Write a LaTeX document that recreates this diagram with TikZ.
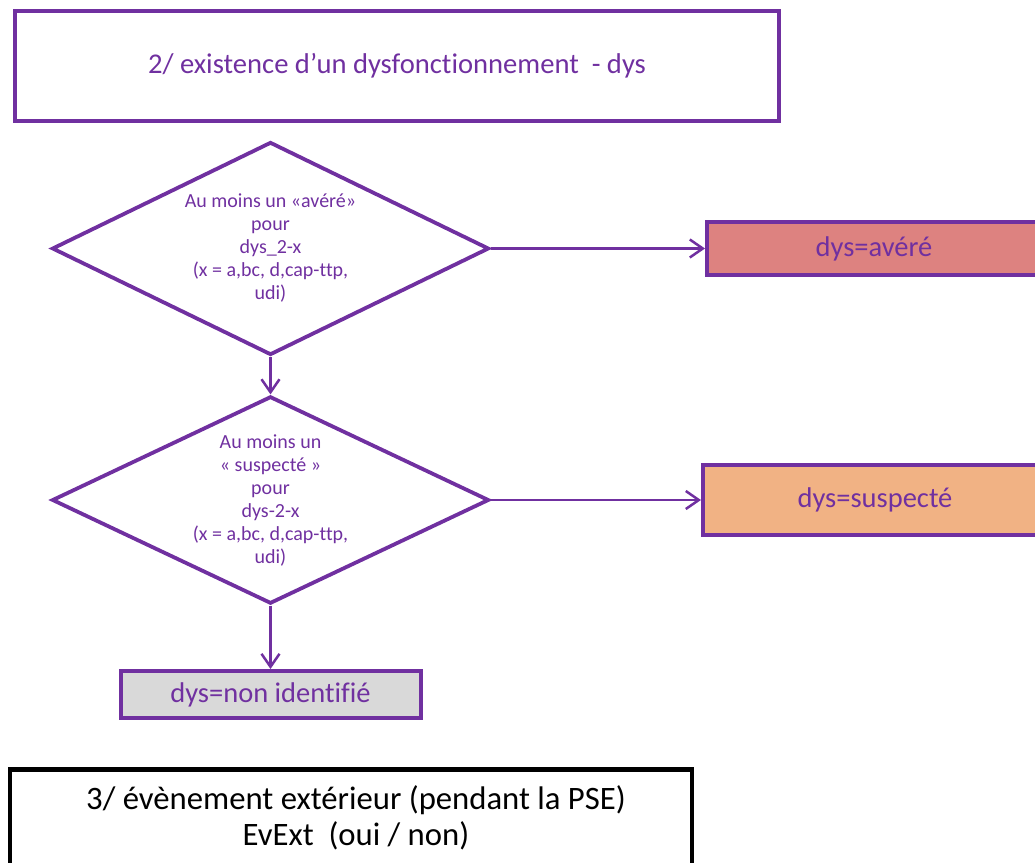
\documentclass[tikz,border=0pt]{standalone}
\usepackage{fontspec}
\setmainfont[Ligatures={NoCommon}]{Carlito}
\usetikzlibrary{shapes.geometric,arrows.meta}
\definecolor{purp}{HTML}{7030A0}
\definecolor{redfill}{HTML}{DD8280}
\definecolor{orangefill}{HTML}{F1B284}
\definecolor{grayfill}{HTML}{D9D9D9}
\tikzset{
  box/.style={draw=purp, line width=4pt, rectangle, inner sep=0pt, text=purp, align=center},
  decision/.style={draw=purp, line width=3.8pt, diamond, inner sep=0pt, aspect=2.05,
    minimum width=437pt, text=purp, align=center,
    font=\fontsize{20}{23}\selectfont},
  flow/.style={draw=purp, line width=2.5pt, -{Straight Barb[length=13pt,width=18pt]}},
  result/.style={box, font=\fontsize{28.5}{32}\selectfont}
}
\begin{document}
\begin{tikzpicture}[x=1pt,y=-1pt]
\clip (0,0) rectangle (1035,862);
\useasboundingbox (0,0) rectangle (1035,862);
\node[box, minimum width=764pt, minimum height=110pt, font=\fontsize{28.6}{34}\selectfont]
  (title) at (397,66) {2/ existence d’un dysfonctionnement~ - dys};
\node[decision, minimum height=213pt] (d1) at (270.5,248.5)
  {Au moins un «avéré»\\pour\\dys\_2-x\\(x = a,bc, d,cap-ttp,\\udi)};
\node[decision, minimum height=204pt] (d2) at (270.5,500)
  {Au moins un\\« suspecté »\\pour\\dys-2-x\\(x = a,bc, d,cap-ttp,\\udi)};
\node[result, fill=redfill, minimum width=334pt, minimum height=53pt] (avere) at (874,248.5) {dys=avéré};
\node[result, fill=orangefill, minimum width=344pt, minimum height=70pt] (susp) at (875,500) {dys=suspecté};
\node[result, fill=grayfill, minimum width=300pt, minimum height=47pt] (nonid) at (270.5,694.5) {dys=non identifié};
\node[draw=black, line width=4.5pt, minimum width=682pt, minimum height=103pt, inner sep=0pt,
  anchor=north, align=center, font=\fontsize{32.7}{36}\selectfont] (evext) at (351,767)
  {};
\node[align=center, font=\fontsize{32.7}{36}\selectfont] (evtext) at (356,818)
  {3/ évènement extérieur (pendant la PSE)\\EvExt~ (oui / non)};
\draw[flow] (d1.east) -- (avere.west);
\draw[flow] (d1.south) -- (d2.north);
\draw[flow] (d2.east) -- (susp.west);
\draw[flow] (d2.south) -- (nonid.north);
\end{tikzpicture}
\end{document}
